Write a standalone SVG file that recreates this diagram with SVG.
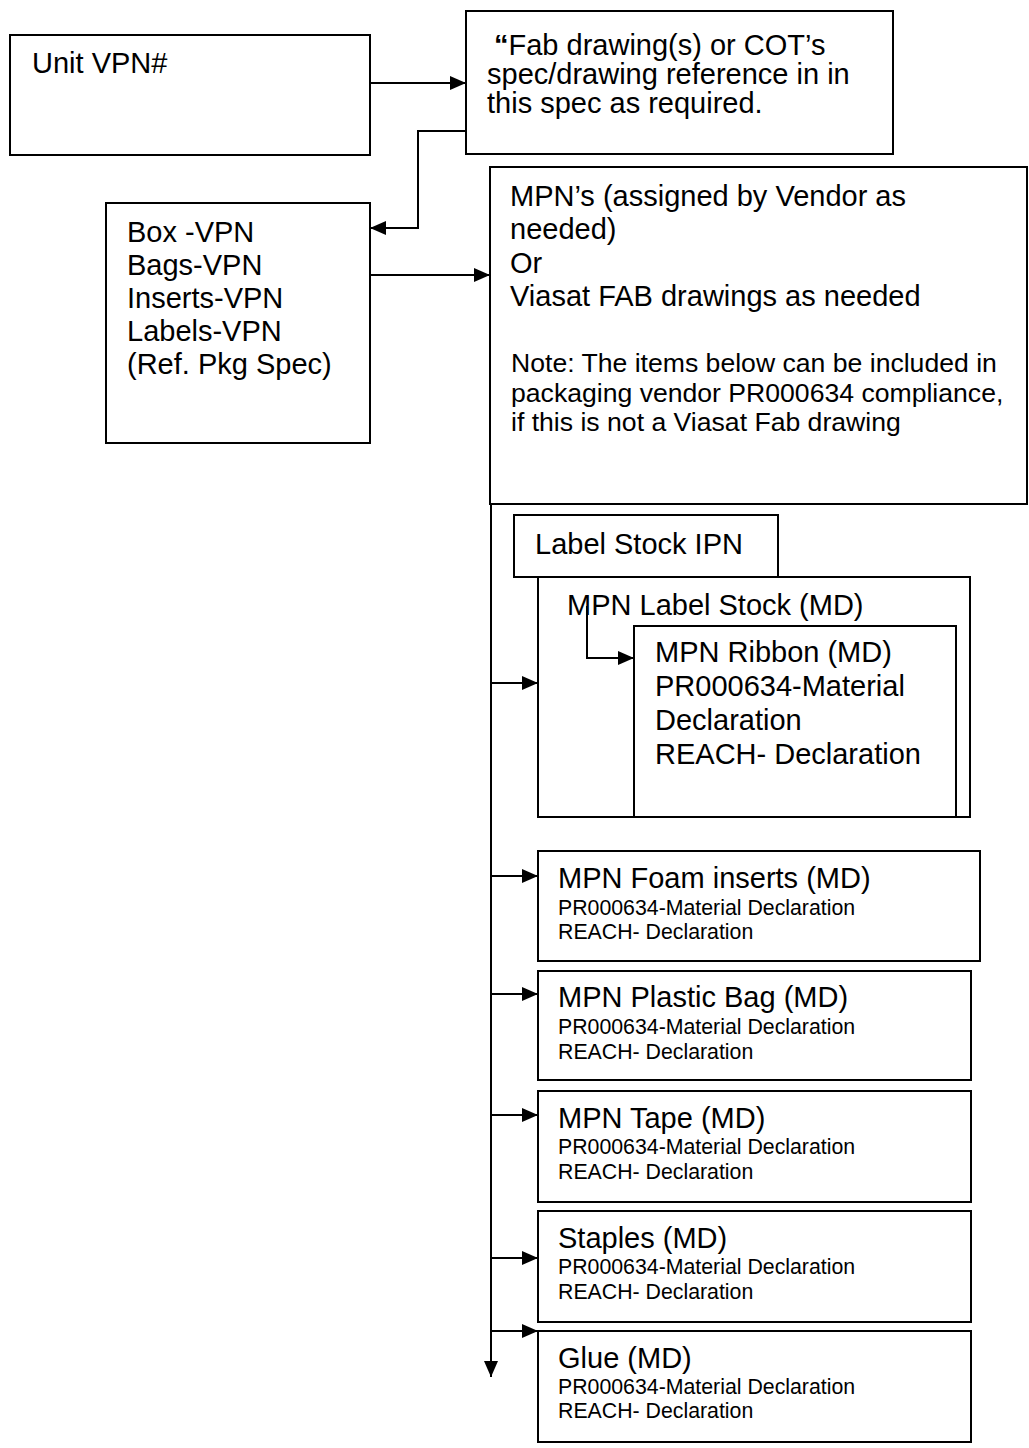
<svg xmlns="http://www.w3.org/2000/svg" width="1029" height="1448" viewBox="0 0 1029 1448">
<style>
  .box { fill: #ffffff; stroke: #000000; stroke-width: 2; }
  .conn { fill: none; stroke: #000000; stroke-width: 2; }
  text { font-family: "Liberation Sans", Arial, sans-serif; fill: #000000; }
  .t { font-size: 29px; }
  .n { font-size: 26.6px; }
  .s { font-size: 21.3px; }
</style>
<defs>
  <marker id="arr" markerUnits="userSpaceOnUse" markerWidth="17" markerHeight="15" refX="16" refY="7" orient="auto">
    <path d="M0,0 L16,7 L0,14 Z" fill="#000000"/>
  </marker>
</defs>
<rect x="0" y="0" width="1029" height="1448" fill="#ffffff"/>

<g id="unit-vpn">
  <rect class="box" x="10" y="35" width="360" height="120"/>
  <text class="t" x="32" y="73">Unit VPN#</text>
</g>

<g id="fab-drawings">
  <rect class="box" x="466" y="11" width="427" height="143"/>
  <text class="t" x="494" y="55"><tspan font-weight="bold">“</tspan>Fab drawing(s) or COT’s</text>
  <text class="t" x="487" y="84">spec/drawing reference in in</text>
  <text class="t" x="487" y="113">this spec as required.</text>
</g>

<g id="box-vpn">
  <rect class="box" x="106" y="203" width="264" height="240"/>
  <text class="t" x="127" y="242">Box -VPN</text>
  <text class="t" x="127" y="275">Bags-VPN</text>
  <text class="t" x="127" y="308">Inserts-VPN</text>
  <text class="t" x="127" y="341">Labels-VPN</text>
  <text class="t" x="127" y="374">(Ref. Pkg Spec)</text>
</g>

<g id="mpns">
  <rect class="box" x="490" y="167" width="537" height="337"/>
  <text class="t" x="510" y="206">MPN’s (assigned by Vendor as</text>
  <text class="t" x="510" y="239">needed)</text>
  <text class="t" x="510" y="273">Or</text>
  <text class="t" x="510" y="306">Viasat FAB drawings as needed</text>
  <text class="n" x="511" y="372">Note: The items below can be included in</text>
  <text class="n" x="511" y="402">packaging vendor PR000634 compliance,</text>
  <text class="n" x="511" y="431">if this is not a Viasat Fab drawing</text>
</g>

<g id="label-stock-ipn">
  <rect class="box" x="514" y="515" width="264" height="62"/>
  <text class="t" x="535" y="554">Label Stock IPN</text>
</g>

<g id="mpn-label-stock">
  <rect class="box" x="538" y="577" width="432" height="240"/>
  <text class="t" x="567" y="615">MPN Label Stock (MD)</text>
</g>

<g id="mpn-ribbon">
  <rect class="box" x="634" y="626" width="322" height="191"/>
  <text class="t" x="655" y="662">MPN Ribbon (MD)</text>
  <text class="t" x="655" y="696">PR000634-Material</text>
  <text class="t" x="655" y="730">Declaration</text>
  <text class="t" x="655" y="764">REACH- Declaration</text>
</g>

<g id="mpn-foam">
  <rect class="box" x="538" y="851" width="442" height="110"/>
  <text class="t" x="558" y="888">MPN Foam inserts (MD)</text>
  <text class="s" x="558" y="915">PR000634-Material Declaration</text>
  <text class="s" x="558" y="939">REACH- Declaration</text>
</g>

<g id="mpn-plastic-bag">
  <rect class="box" x="538" y="971" width="433" height="109"/>
  <text class="t" x="558" y="1007">MPN Plastic Bag (MD)</text>
  <text class="s" x="558" y="1034">PR000634-Material Declaration</text>
  <text class="s" x="558" y="1059">REACH- Declaration</text>
</g>

<g id="mpn-tape">
  <rect class="box" x="538" y="1091" width="433" height="111"/>
  <text class="t" x="558" y="1128">MPN Tape (MD)</text>
  <text class="s" x="558" y="1154">PR000634-Material Declaration</text>
  <text class="s" x="558" y="1179">REACH- Declaration</text>
</g>

<g id="staples">
  <rect class="box" x="538" y="1211" width="433" height="111"/>
  <text class="t" x="558" y="1248">Staples (MD)</text>
  <text class="s" x="558" y="1274">PR000634-Material Declaration</text>
  <text class="s" x="558" y="1299">REACH- Declaration</text>
</g>

<g id="glue">
  <rect class="box" x="538" y="1331" width="433" height="111"/>
  <text class="t" x="558" y="1368">Glue (MD)</text>
  <text class="s" x="558" y="1394">PR000634-Material Declaration</text>
  <text class="s" x="558" y="1418">REACH- Declaration</text>
</g>

<g id="connectors">
  <path class="conn" d="M370,83 H466" marker-end="url(#arr)"/>
  <path class="conn" d="M466,131 H418 V228 H370" marker-end="url(#arr)"/>
  <path class="conn" d="M370,275 H490" marker-end="url(#arr)"/>
  <path class="conn" d="M491,504 V1377" marker-end="url(#arr)"/>
  <path class="conn" d="M491,683 H538" marker-end="url(#arr)"/>
  <path class="conn" d="M587,606 V658 H634" marker-end="url(#arr)"/>
  <path class="conn" d="M491,876 H538" marker-end="url(#arr)"/>
  <path class="conn" d="M491,994 H538" marker-end="url(#arr)"/>
  <path class="conn" d="M491,1115 H538" marker-end="url(#arr)"/>
  <path class="conn" d="M491,1258 H538" marker-end="url(#arr)"/>
  <path class="conn" d="M491,1331 H538" marker-end="url(#arr)"/>
</g>
</svg>
